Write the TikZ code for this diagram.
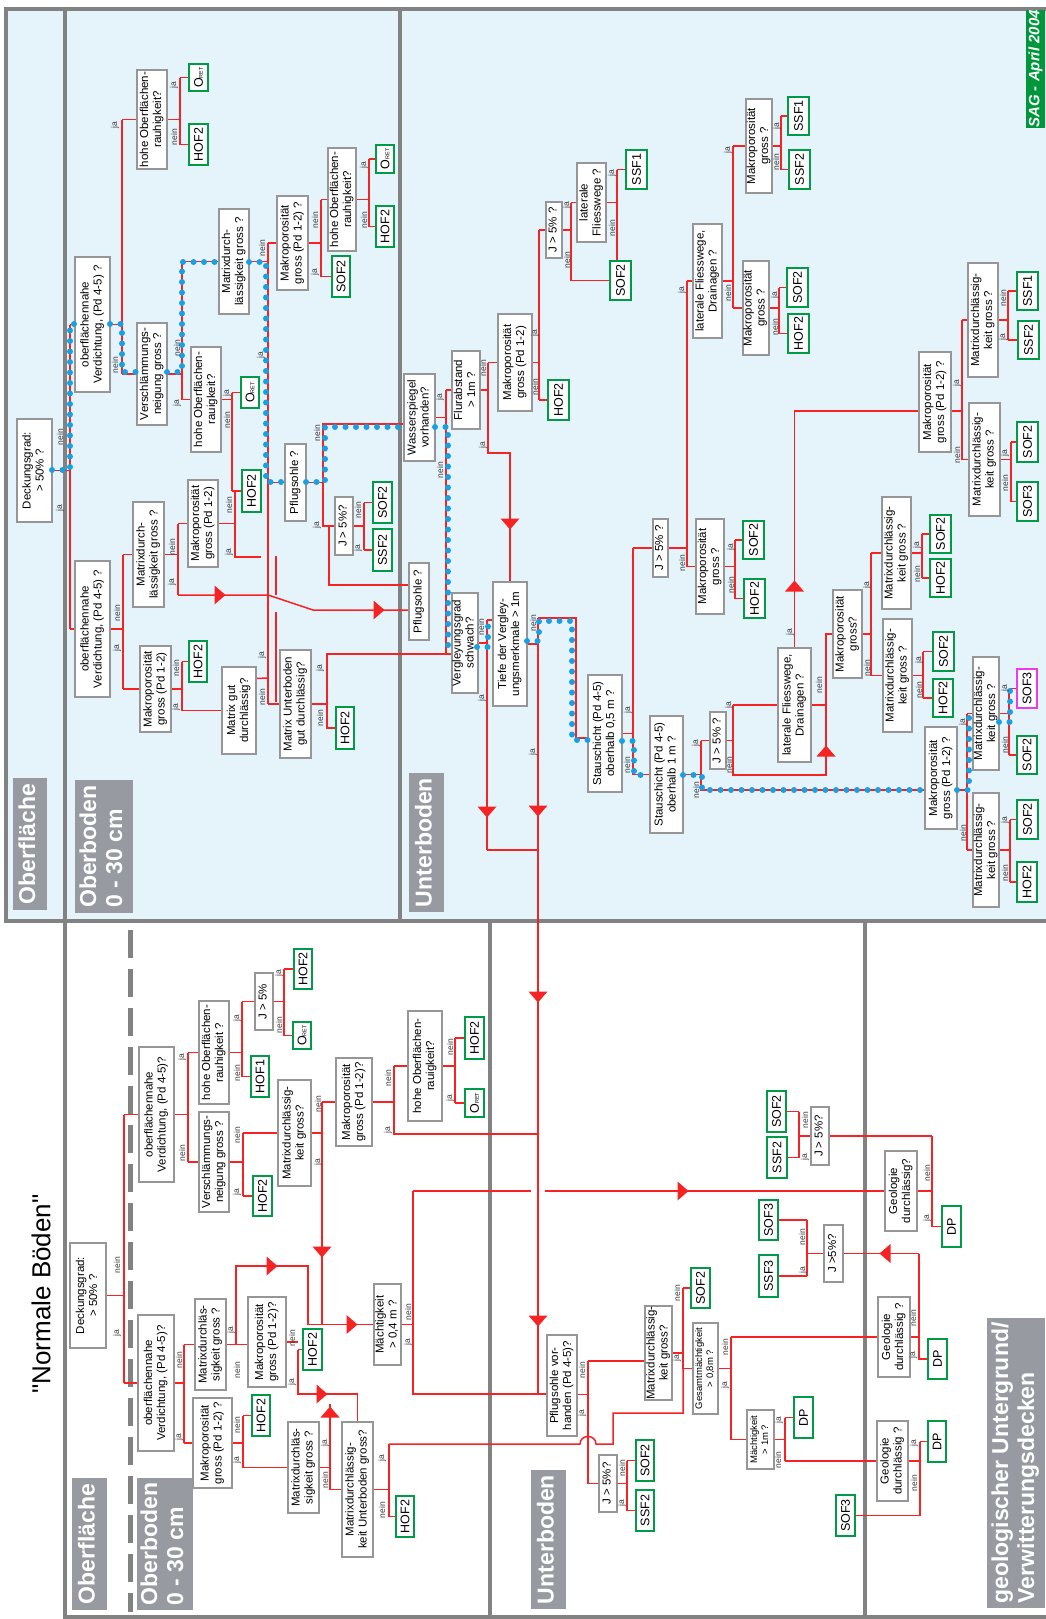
\documentclass[tikz,border=0pt]{standalone}
\usepackage{graphicx}
\usepackage{fontspec}
\setmainfont{Liberation Sans}
\newfontfamily\plainsans{Liberation Sans}[Ligatures=TeXOff]
\definecolor{redc}{RGB}{245,35,35}
\definecolor{bluec}{RGB}{25,160,225}
\definecolor{qgray}{RGB}{150,150,150}
\definecolor{rgreen}{RGB}{0,155,70}
\definecolor{magc}{RGB}{235,60,235}
\definecolor{bgc}{RGB}{229,243,251}
\definecolor{frc}{RGB}{130,130,130}
\definecolor{sectc}{RGB}{152,154,162}
\definecolor{sagc}{RGB}{0,150,60}
\definecolor{labc}{RGB}{60,60,60}
\pgfdeclarelayer{back}\pgfdeclarelayer{lines}
\pgfsetlayers{back,lines,main}
\newcommand\Rot[1]{\rotatebox{90}{\begin{tabular}{@{}c@{}}#1\end{tabular}}}
\newcommand\Rotl[1]{\rotatebox{90}{\begin{tabular}{@{}l@{}}#1\end{tabular}}}
\newcommand\ORET{O{\fontsize{5.5}{6}\selectfont RET}}
\newcommand\qbx[7][]{\node[qbox,#1,minimum width={(#5)-(#3)},minimum height={(#6)-(#4)}] (#2) at ({((#3)+(#5))/2},{((#4)+(#6))/2}) {\Rot{#7}};}
\newcommand\rbx[7][]{\node[rbox,#1,minimum width={(#5)-(#3)},minimum height={(#6)-(#4)}] (#2) at ({((#3)+(#5))/2},{((#4)+(#6))/2}) {\rotatebox{90}{#7}};}
\newcommand\brn[4]{\coordinate (J#1) at (#2,0);
\draw[rl] (#1.east) -- (#1.east -| J#1) (#3.west -| J#1) -- (#1.east -| J#1) -- (#4.west -| J#1) (#3.west -| J#1) -- (#3.west) (#4.west -| J#1) -- (#4.west);}
\newcounter{lbc}
\newcommand\lbl[3]{\stepcounter{lbc}\node[lab] (L\arabic{lbc}) at (#1,#2) {\rotatebox{90}{#3}};}
\newcommand\arR[2]{\fill[redc] (#1+5.5,#2) -- (#1-5.5,#2-9.5) -- (#1-5.5,#2+9.5) -- cycle;}
\newcommand\arL[2]{\fill[redc] (#1-5.5,#2) -- (#1+5.5,#2-9.5) -- (#1+5.5,#2+9.5) -- cycle;}
\newcommand\arD[2]{\fill[redc] (#1,#2+5.5) -- (#1-9.5,#2-5.5) -- (#1+9.5,#2-5.5) -- cycle;}
\newcommand\arU[2]{\fill[redc] (#1,#2-5.5) -- (#1-9.5,#2+5.5) -- (#1+9.5,#2+5.5) -- cycle;}
\tikzset{
 rl/.style={draw=redc, line width=1.5pt},
 bdot/.style={draw=bluec, line width=6pt, line cap=round, dash pattern=on 0pt off 10.5pt},
 qbox/.style={draw=qgray, line width=2pt, fill=white, inner sep=0pt, outer sep=0pt, font=\fontsize{11.5}{13}\selectfont},
 rbox/.style={draw=rgreen, line width=2.5pt, fill=white, inner sep=0pt, outer sep=0pt, font=\fontsize{12.5}{14}\selectfont},
 lab/.style={inner sep=0pt, font=\fontsize{8.5}{9}\selectfont, text=labc},
 sect/.style={fill=sectc, text=white, inner sep=0pt, font=\bfseries\fontsize{23}{26}\selectfont},
 frame/.style={draw=frc, line width=4pt},
}
\begin{document}
\begin{tikzpicture}[x=1pt,y=-1pt]
\useasboundingbox (0,0) rectangle (1046,1619);
\begin{pgfonlayer}{back}
\fill[white] (0,0) rectangle (1046,1619);
\fill[bgc] (6,9) rectangle (1046,921);
\draw[frame] (1046,9) -- (6,9) -- (6,921) -- (1046,921);
\draw[frame] (65,9) -- (65,1617) -- (1046,1617);
\draw[frame] (400,9) -- (400,921);
\draw[frame] (490,921) -- (490,1617);
\draw[frame] (865,921) -- (865,1617);
\draw[draw=frc, line width=5pt, dash pattern=on 28pt off 11pt] (130,930) -- (130,1612);
\end{pgfonlayer}

% section labels
\node[sect, minimum width=34, minimum height=132] (S1) at (30,844) {\Rotl{Oberfläche}};
\node[sect, minimum width=58, minimum height=133] (S2) at (104,846.5) {\Rotl{Oberboden\\0 - 30 cm}};
\node[sect, minimum width=35, minimum height=139] (S3) at (426.5,842.5) {\Rotl{Unterboden}};
\node[sect, minimum width=35, minimum height=132] (S4) at (89.5,1544) {\Rotl{Oberfläche}};
\node[sect, minimum width=56, minimum height=132] (S5) at (165,1544) {\Rotl{Oberboden\\0 - 30 cm}};
\node[sect, minimum width=35, minimum height=139] (S6) at (548.5,1539.5) {\Rotl{Unterboden}};
\node[sect, minimum width=58, minimum height=290] (S7) at (1016,1463) {\Rotl{geologischer Untergrund/\\Verwitterungsdecken}};
\node[fill=sagc, text=white, inner sep=0pt, minimum width=19, minimum height=118, font=\bfseries\itshape\fontsize{15}{15}\selectfont] (SAG) at (1035.5,69) {\rotatebox{90}{SAG - April 2004}};
\node[inner sep=0pt, font=\plainsans\fontsize{26}{30}\selectfont] (title) at (41,1294) {\rotatebox{90}{"Normale Böden"}};

% ---------- top section boxes
\qbx{T1}{17}{419}{52}{522}{Deckungsgrad:\\> 50\% ?}
\qbx{T2}{75}{257}{110}{392}{oberflächennahe\\Verdichtung, (Pd 4-5) ?}
\qbx{T3}{137}{70}{167}{169}{hohe Oberflächen-\\rauhigkeit?}
\rbx{T3a}{189}{64}{208}{91}{\ORET}
\rbx{T3b}{189}{124}{208}{165}{HOF2}
\qbx{T4}{137}{323}{167}{425}{Verschlämmungs-\\neigung gross ?}
\qbx{T5}{191}{347}{221}{452}{hohe Oberflächen-\\rauigkeit?}
\rbx{T5a}{241}{377}{259}{408}{\ORET}
\rbx{T5b}{242}{470}{261}{512}{HOF2}
\qbx{T6}{219}{209}{249}{314}{Matrixdurch-\\lässigkeit gross ?}
\qbx{T7}{277}{196}{308}{290}{Makroporosität\\gross (Pd 1-2) ?}
\rbx{T7a}{332}{256}{350}{297}{SOF2}
\qbx{T8}{328}{148}{356}{251}{hohe Oberflächen-\\rauhigkeit?}
\rbx{T8a}{376}{145}{394}{173}{\ORET}
\rbx{T8b}{376}{206}{394}{247}{HOF2}
\qbx{T9}{75}{561}{110}{697}{oberflächennahe\\Verdichtung, (Pd 4-5) ?}
\qbx{T10}{133}{502}{164}{607}{Matrixdurch-\\lässigkeit gross ?}
\qbx{T11}{188}{480}{218}{567}{Makroporosität\\gross (Pd 1-2)}
\qbx{T12}{140}{646}{171}{732}{Makroporosität\\gross (Pd 1-2)}
\rbx{T12a}{189}{641}{207}{682}{HOF2}
\qbx{T13}{222}{667}{256}{754}{Matrix gut\\durchlässig?}
\qbx{T14}{285}{444}{306}{521}{Pflugsohle ?}
\qbx{T15}{335}{497}{353}{555}{J > 5\%?}
\rbx{T15a}{373}{482}{392}{523}{SOF2}
\rbx{T15b}{373}{529}{392}{571}{SSF2}
\qbx{T16}{280}{650}{311}{758}{Matrix Unterboden\\gut durchlässig?}
\rbx{T16a}{336}{707}{354}{749}{HOF2}
% Unterboden (top)
\qbx{U1}{404}{374}{435}{461}{Wasserspiegel\\vorhanden?}
\qbx{U2}{452}{351}{480}{429}{Flurabstand\\> 1m ?}
\qbx{U3}{498}{314}{532}{411}{Makroporosität\\gross (Pd 1-2)}
\rbx{U3a}{548}{380}{569}{420}{HOF2}
\qbx{U4}{546}{202}{562}{258}{J > 5\% ?}
\qbx{U5}{577}{163}{606}{242}{laterale\\Fliesswege ?}
\rbx{U5a}{626}{150}{647}{189}{SSF1}
\rbx{U5b}{610}{261}{631}{300}{SOF2}
\qbx{U6}{409}{563}{429}{640}{Pflugsohle ?}
\qbx{U7}{452}{593}{477}{693}{Vergleyungsgrad\\schwach?}
\qbx{U8}{493}{582}{527}{706}{Tiefe der Vergley-\\ungsmerkmale > 1m}
\qbx{U9}{588}{675}{622}{792}{Stauschicht (Pd 4-5)\\oberhalb 0,5 m ?}
\qbx{U10}{650}{716}{683}{833}{Stauschicht (Pd 4-5)\\oberhalb 1 m ?}
\qbx{U11}{653}{519}{668}{577}{J > 5\% ?}
\qbx{U12}{696}{519}{724}{614}{Makroporosität\\gross ?}
\rbx{U12a}{743}{521}{764}{559}{SOF2}
\rbx{U12b}{744}{579}{765}{618}{HOF2}
\qbx{U13}{693}{224}{722}{338}{laterale Fliesswege,\\Drainagen ?}
\qbx{U14}{746}{99}{772}{193}{Makroporosität\\gross ?}
\rbx{U14a}{788}{97}{809}{135}{SSF1}
\rbx{U14b}{789}{150}{810}{189}{SSF2}
\qbx{U15}{743}{261}{768}{355}{Makroporosität\\gross ?}
\rbx{U15a}{787}{268}{808}{307}{SOF2}
\rbx{U15b}{788}{314}{809}{353}{HOF2}
\qbx{U16}{710}{712}{726}{769}{J > 5\% ?}
\qbx{U17}{778}{648}{811}{762}{laterale Fliesswege,\\Drainagen ?}
\qbx{U18}{833}{590}{862}{678}{Makroporosität\\gross?}
\qbx{U19}{882}{497}{911}{609}{Matrixdurchlässig-\\keit gross ?}
\rbx{U19a}{930}{515}{951}{553}{SOF2}
\rbx{U19b}{930}{559}{951}{597}{HOF2}
\qbx{U20}{883}{619}{912}{732}{Matrixdurchlässig-\\keit gross ?}
\rbx{U20a}{933}{632}{954}{671}{SOF2}
\rbx{U20b}{933}{679}{953}{717}{HOF2}
\qbx{U21}{919}{352}{951}{452}{Makroporosität\\gross (Pd 1-2) ?}
\qbx{U22}{968}{263}{998}{377}{Matrixdurchlässig-\\keit gross ?}
\rbx{U22a}{1017}{272}{1038}{310}{SSF1}
\rbx{U22b}{1018}{321}{1039}{359}{SSF2}
\qbx{U23}{969}{403}{1000}{516}{Matrixdurchlässig-\\keit gross ?}
\rbx{U23a}{1017}{422}{1038}{462}{SOF2}
\rbx{U23b}{1017}{482}{1038}{521}{SOF3}
\qbx{U24}{925}{727}{957}{829}{Makroporosität\\gross (Pd 1-2) ?}
\qbx{U25}{973}{657}{999}{770}{Matrixdurchlässig-\\keit gross ?}
\rbx[draw=magc]{U25a}{1017}{669}{1037}{708}{SOF3}
\rbx{U25b}{1017}{736}{1037}{774}{SOF2}
\qbx{U26}{973}{793}{999}{907}{Matrixdurchlässig-\\keit gross ?}
\rbx{U26a}{1017}{800}{1038}{839}{SOF2}
\rbx{U26b}{1017}{862}{1037}{902}{HOF2}
% ---------- bottom section boxes
\qbx{B1}{70}{1243}{106}{1348}{Deckungsgrad:\\> 50\% ?}
\qbx{B2}{139}{1047}{174}{1182}{oberflächennahe\\Verdichtung, (Pd 4-5)?}
\qbx{B3}{199}{1001}{229}{1104}{hohe Oberflächen-\\rauhigkeit ?}
\rbx{B3a}{251}{1056}{269}{1097}{HOF1}
\qbx{B4}{255}{973}{273}{1030}{J > 5\%}
\rbx{B4a}{294}{949}{312}{989}{HOF2}
\rbx{B4b}{293}{1022}{311}{1049}{\ORET}
\qbx{B5}{199}{1112}{229}{1212}{Verschlämmungs-\\neigung gross ?}
\rbx{B5a}{253}{1176}{272}{1216}{HOF2}
\qbx{B6}{278}{1080}{311}{1186}{Matrixdurchlässig-\\keit gross?}
\qbx{B7}{336}{1058}{372}{1146}{Makroporosität\\gross (Pd 1-2)?}
\qbx{B8}{408}{1011}{442}{1121}{hohe Oberflächen-\\rauigkeit?}
\rbx{B8a}{465}{1017}{484}{1059}{HOF2}
\rbx{B8b}{465}{1089}{484}{1117}{\ORET}
\qbx{B9}{138}{1315}{174}{1451}{oberflächennahe\\Verdichtung, (Pd 4-5)?}
\qbx{B10}{195}{1299}{226}{1390}{Matrixdurchläs-\\sigkeit gross ?}
\qbx{B11}{248}{1297}{286}{1387}{Makroporosität\\gross (Pd 1-2)?}
\rbx{B11a}{303}{1329}{322}{1370}{HOF2}
\qbx{B12}{193}{1398}{232}{1488}{Makroporosität\\gross (Pd 1-2) ?}
\rbx{B12a}{252}{1395}{270}{1436}{HOF2}
\qbx{B13}{288}{1422}{319}{1513}{Matrixdurchläs-\\sigkeit gross ?}
\qbx{B14}{342}{1422}{373}{1557}{Matrixdurchlässig-\\keit Unterboden gross?}
\rbx{B14a}{396}{1496}{414}{1537}{HOF2}
\qbx{B15}{374}{1284}{401}{1365}{Mächtigkeit\\> 0,4 m ?}
\qbx{B16}{547}{1335}{577}{1436}{Pflugsohle vor-\\handen (Pd 4-5)?}
\qbx{B17}{599}{1455}{617}{1512}{J > 5\%?}
\rbx{B17a}{636}{1440}{654}{1481}{SOF2}
\rbx{B17b}{636}{1490}{654}{1531}{SSF2}
\qbx{B18}{645}{1307}{672}{1399}{Matrixdurchlässig-\\keit gross?}
\rbx{B18a}{691}{1268}{710}{1308}{SOF2}
\qbx[font=\fontsize{9.5}{11}\selectfont]{B19}{693}{1323}{718}{1414}{Gesamtmächtigkeit\\> 0,8m ?}
\qbx[font=\fontsize{9.5}{11}\selectfont]{B20}{747}{1410}{774}{1469}{Mächtigkeit\\> 1m ?}
\rbx{B20a}{794}{1397}{813}{1438}{DP}
\qbx{B21}{878}{1297}{910}{1377}{Geologie\\durchlässig ?}
\rbx{B21a}{928}{1339}{947}{1379}{DP}
\qbx{B22}{877}{1421}{908}{1501}{Geologie\\durchlässig ?}
\rbx{B22a}{928}{1421}{946}{1462}{DP}
\rbx{B22b}{836}{1495}{855}{1536}{SOF3}
\qbx{B23}{824}{1225}{843}{1282}{J >5\%?}
\rbx{B23a}{759}{1200}{778}{1240}{SOF3}
\rbx{B23b}{759}{1255}{778}{1297}{SSF3}
\qbx{B24}{811}{1107}{829}{1165}{J > 5\%?}
\rbx{B24a}{767}{1091}{786}{1132}{SOF2}
\rbx{B24b}{767}{1137}{787}{1178}{SSF2}
\qbx{B25}{885}{1151}{917}{1231}{Geologie\\durchlässig?}
\rbx{B25a}{942}{1206}{961}{1247}{DP}

% ---------- connectors
\begin{pgfonlayer}{lines}
\brn{T1}{70}{T2}{T9}
\brn{T2}{122}{T3}{T4}
\brn{T3}{180}{T3a}{T3b}
\brn{T4}{182}{T6}{T5}
\brn{T5}{232}{T5a}{T5b}
\brn{T6}{268}{T7}{T16}
\draw[rl] (T14.west -| JT6) -- (T14.west);
\brn{T7}{321}{T8}{T7a}
\brn{T8}{369}{T8a}{T8b}
\brn{T9}{123}{T10}{T12}
\coordinate (JT10) at (178,0);
\draw[rl] (T10.east) -- (T10.east -| JT10) (T11.west -| JT10) -- (178,595) (T11.west -| JT10) -- (T11.west);
\draw[rl] (178,595) -- (268,595) -- (313,610) -- ([yshift=-8.5pt]U6.west);
\coordinate (JT11) at (235,0);
\draw[rl] (T11.east) -- (T11.east -| JT11) (T5b.west -| JT11) -- (235,557) -- (261,557) (T5b.west -| JT11) -- (T5b.west);
\draw[rl] (275,557) -- (276,557) -- (276,595);
\draw[rl] (276,612) -- (276,702);
\brn{T12}{182}{T12a}{T13}
\draw[rl] ([yshift=32pt]T13.east) -- (268,678);
\coordinate (JT14) at (323,0);
\draw[rl] (T14.east) -- (T14.east -| JT14) -- (323,424) -- ([yshift=-6.5pt]U1.west) (T14.east -| JT14) -- (T15.west -| JT14) -- (T15.west);
\brn{T15}{364}{T15a}{T15b}
\draw[rl] (329,526) -- (329,585) -- ([yshift=16.5pt]U6.west);
\coordinate (JT16) at (327,0);
\draw[rl] (T16.east) -- (T16.east -| JT16) -- (327,654) -- ([yshift=-11pt]U7.west) (T16.east -| JT16) -- (T16a.west -| JT16) -- (T16a.west);
% Unterboden top
\coordinate (JU1) at (446,0);
\draw[rl] (U1.east) -- (U1.east -| JU1) (U2.west -| JU1) -- (446,654) (U2.west -| JU1) -- (U2.west);
\coordinate (JU2) at (488,0);
\draw[rl] (U2.east) -- (U2.east -| JU2) (U3.west -| JU2) -- (488,453) -- (510,453) -- (U8.north) (U3.west -| JU2) -- (U3.west);
\brn{U3}{539}{U4}{U3a}
\brn{U4}{571}{U5}{U5b}
\coordinate (JU5) at (617,0);
\draw[rl] (U5.east) -- (U5.east -| JU5) (U5a.west -| JU5) -- (U5b.north -| JU5) (U5a.west -| JU5) -- (U5a.west);
\coordinate (JU7) at (487,0);
\draw[rl] (U7.east) -- (U7.east -| JU7) (487,620) -- (487,850) (487,620) -- ([yshift=24pt]U8.west);
\coordinate (JU8) at (538,0);
\draw[rl] (U8.east) -- (U8.east -| JU8) (538,618) -- (538,1394) (538,618) -- (576,618) -- (576,738) -- ([yshift=-4.5pt]U9.west);
\draw[rl] (487,850) -- (538,850);
\brn{U9}{633}{U11}{U10}
\coordinate (JU10) at (701,0);
\draw[rl] (U10.east) -- (U10.east -| JU10) (U16.west -| JU10) -- (701,790) -- ([yshift=-12pt]U24.west) (U16.west -| JU10) -- (U16.west);
\brn{U11}{687}{U13}{U12}
\brn{U13}{733}{U14}{U15}
\brn{U14}{781}{U14a}{U14b}
\brn{U15}{779}{U15a}{U15b}
\brn{U12}{735}{U12a}{U12b}
\coordinate (JU16) at (733,0);
\draw[rl] (U16.east) -- (U16.east -| JU16) (U17.west -| JU16) -- (733,775) -- (826,775) -- (826,702) (U17.west -| JU16) -- (U17.west);
\coordinate (JU17) at (826,0);
\draw[rl] (U17.east) -- (U17.east -| JU17) -- (U18.west -| JU17) -- (U18.west);
\coordinate (K1) at (794.5,411);
\draw[rl] (U17.north) -- (K1) -- ([yshift=-9pt]U21.west);
\brn{U18}{871}{U19}{U20}
\brn{U19}{922}{U19a}{U19b}
\brn{U20}{923}{U20a}{U20b}
\coordinate (JU21) at (962,0);
\draw[rl] ([yshift=-9pt]U21.east) -- ([yshift=-9pt]U21.east -| JU21) (U22.west -| JU21) -- (U23.west -| JU21) (U22.west -| JU21) -- (U22.west) (U23.west -| JU21) -- (U23.west);
\brn{U22}{1008}{U22a}{U22b}
\brn{U23}{1011}{U23a}{U23b}
\coordinate (JU24) at (967,0);
\draw[rl] ([yshift=-12pt]U24.east) -- ([yshift=-12pt]U24.east -| JU24) (U25.west -| JU24) -- (U26.west -| JU24) (U25.west -| JU24) -- (U25.west) (U26.west -| JU24) -- (U26.west);
\brn{U25}{1009}{U25a}{U25b}
\brn{U26}{1010}{U26a}{U26b}
% bottom
\brn{B1}{124}{B2}{B9}
\brn{B2}{188}{B3}{B5}
\brn{B3}{242}{B4}{B3a}
\brn{B4}{284}{B4a}{B4b}
\brn{B5}{243}{B6}{B5a}
\coordinate (JB6) at (322,0);
\draw[rl] (B6.east) -- (B6.east -| JB6) (B7.west -| JB6) -- (322,1325) (B7.west -| JB6) -- (B7.west);
\coordinate (JB7) at (394,0);
\draw[rl] (B7.east) -- (B7.east -| JB7) (B8.west -| JB7) -- (394,1134) -- (538,1134) (B8.west -| JB7) -- (B8.west);
\brn{B8}{455}{B8a}{B8b}
\brn{B9}{184}{B10}{B12}
\coordinate (JB10) at (236,0);
\draw[rl] (B10.east) -- (B10.east -| B11.west) (B10.east -| JB10) -- (236,1266) -- (308,1266) -- (308,1324.5) -- (B15.west);
\coordinate (JB11) at (298,0);
\coordinate (K2) at (357.5,1394);
\draw[rl] (B11.east) -- (B11.east -| JB11) (B11a.west -| JB11) -- (298,1394) -- (K2) -- (B14.north) (B11a.west -| JB11) -- (B11a.west);
\brn{B12}{243}{B12a}{B13}
\coordinate (JB13) at (330,0);
\draw[rl] (B13.east) -- (B13.east -| JB13) (330,1404) -- (B14.west -| JB13) -- (B14.west);
\coordinate (JB14) at (389,0);
\draw[rl] (B14.east) -- (B14.east -| JB14) (389,1444) -- (B14a.west -| JB14) -- (B14a.west);
\draw[rl] (389,1444) -- (580,1444) .. controls (580,1434) and (596,1434) .. (596,1444) -- (613,1444) -- (613,1413) -- (683,1413) -- (683,1368.5);
\coordinate (JB15) at (413,0);
\draw[rl] (B15.east) -- (B15.east -| JB15) (413,1191) -- (413,1394) -- ([yshift=-8.5pt]B16.west);
\draw[rl] (413,1191) -- (531,1191) (545,1191) -- (B25.west);
\coordinate (JB16) at (588,0);
\draw[rl] ([yshift=-9pt]B16.east) -- (588,1394.5) (588,1361) -- (B17.west -| JB16) -- (B17.west) (588,1361) -- ([yshift=-8pt]B18.west);
\brn{B17}{627}{B17a}{B17b}
\coordinate (JB18) at (683,0);
\draw[rl] (B18.east) -- (B18.east -| JB18) (B18a.west -| JB18) -- (B19.west -| JB18) -- (B19.west) (B18a.west -| JB18) -- (B18a.west);
\brn{B19}{731}{B21}{B20}
\brn{B20}{785}{B20a}{B22}
\coordinate (JB21) at (919,0);
\draw[rl] (B21.east) -- (B21.east -| JB21) (B23.east -| JB21) -- (B21a.west -| JB21) -- (B21a.west) (B23.east -| JB21) -- (B23.east);
\coordinate (JB22) at (920,0);
\draw[rl] (B22.east) -- (B22.east -| JB22) (B22a.west -| JB22) -- (B22a.west) (B22a.west -| JB22) -- (B22b.east -| JB22) -- (B22b.east);
\coordinate (JB23) at (807,0);
\draw[rl] (B23.west) -- (B23.west -| JB23) (B23a.east -| JB23) -- (B23b.east -| JB23) (B23a.east -| JB23) -- (B23a.east) (B23b.east -| JB23) -- (B23b.east);
\coordinate (JB25) at (932,0);
\draw[rl] (B25.east) -- (B25.east -| JB25) (B24.east -| JB25) -- (B25a.west -| JB25) -- (B25a.west) (B24.east -| JB25) -- (B24.east);
\coordinate (JB24) at (799,0);
\draw[rl] (B24.west) -- (B24.west -| JB24) (B24a.east -| JB24) -- (B24b.east -| JB24) (B24a.east -| JB24) -- (B24a.east) (B24b.east -| JB24) -- (B24b.east);
% arrows
\arR{220}{595}
\arR{379}{610}
\arD{510}{524}
\arD{487}{812}
\arD{538}{811}
\arU{794.5}{586}
\arU{826}{751}
\arD{538}{997}
\arD{538}{1321}
\arR{683}{1191}
\arL{885}{1253.5}
\arR{272}{1266}
\arD{322}{1252}
\arR{352}{1324.5}
\arR{322}{1394}
\arU{330}{1412}
\end{pgfonlayer}

% blue dotted path
\draw[bdot] (52,470) -- (70,470) -- (70,324) -- (75,324);
\draw[bdot] (110,324) -- (122,324) -- (122,372) -- (137,372);
\draw[bdot] (167,372) -- (182,372) -- (182,262) -- (219,262);
\draw[bdot] (249,262) -- (266,262) -- (266,482) -- (285,482);
\draw[bdot] (306,482) -- (325,482) -- (325,427) -- (404,427);
\draw[bdot] (435,427) -- (448,427) -- (448,645) -- (452,645);
\draw[bdot] (477,647) -- (488,647) -- (488,622) -- (493,622);
\draw[bdot] (527,641) -- (539,641) -- (539,621) -- (572,621) -- (572,740) -- (588,740);
\draw[bdot] (622,741) -- (634,741) -- (634,775) -- (650,775);
\draw[bdot] (683,775) -- (702,775) -- (702,790) -- (925,790);
\draw[bdot] (957,790) -- (969,790) -- (969,718) -- (973,718);
\draw[bdot] (999,722) -- (1010,722) -- (1010,690) -- (1017,690);

% ja / nein labels
\lbl{60}{437}{nein}\lbl{60}{508}{ja}
\lbl{115}{125}{ja}\lbl{115}{365}{nein}
\lbl{174}{85}{ja}\lbl{174}{137}{nein}
\lbl{177}{348}{nein}\lbl{177}{403}{ja}
\lbl{227}{393}{ja}\lbl{227}{420}{nein}
\lbl{262}{248}{nein}\lbl{261}{355}{ja}
\lbl{315}{220}{nein}\lbl{315}{272}{ja}
\lbl{364}{165}{ja}\lbl{364}{220}{nein}
\lbl{117}{613}{nein}\lbl{117}{648}{ja}
\lbl{172}{547}{nein}\lbl{172}{582}{ja}
\lbl{229}{505}{nein}\lbl{229}{552}{ja}
\lbl{176}{668}{nein}\lbl{176}{707}{ja}
\lbl{262}{655}{ja}\lbl{262}{697}{nein}
\lbl{317}{433}{nein}\lbl{317}{525}{ja}
\lbl{358}{510}{nein}\lbl{358}{548}{ja}
\lbl{320}{668}{ja}\lbl{320}{718}{nein}
\lbl{440}{397}{ja}\lbl{440}{470}{nein}
\lbl{483}{368}{nein}\lbl{483}{445}{ja}
\lbl{535}{333}{ja}\lbl{535}{387}{nein}
\lbl{567}{205}{ja}\lbl{567}{260}{nein}
\lbl{612}{173}{ja}\lbl{612}{228}{nein}
\lbl{481}{627}{nein}\lbl{482}{698}{ja}
\lbl{533}{623}{nein}\lbl{533}{752}{ja}
\lbl{628}{710}{ja}\lbl{627}{765}{nein}
\lbl{696}{743}{ja}\lbl{696}{790}{nein}
\lbl{682}{290}{ja}\lbl{682}{563}{nein}
\lbl{728}{150}{ja}\lbl{728}{293}{nein}
\lbl{777}{126}{ja}\lbl{776}{162}{nein}
\lbl{775}{295}{ja}\lbl{775}{327}{nein}
\lbl{731}{547}{ja}\lbl{731}{585}{nein}
\lbl{729}{705}{ja}\lbl{729}{765}{nein}
\lbl{790}{632}{ja}\lbl{819}{685}{nein}
\lbl{867}{585}{ja}\lbl{867}{668}{nein}
\lbl{917}{545}{ja}\lbl{917}{574}{nein}
\lbl{919}{660}{ja}\lbl{919}{690}{nein}
\lbl{957}{383}{ja}\lbl{957}{455}{nein}
\lbl{1003}{298}{nein}\lbl{1003}{337}{ja}
\lbl{1005}{453}{ja}\lbl{1005}{483}{nein}
\lbl{963}{722}{ja}\lbl{963}{833}{nein}
\lbl{1005}{688}{ja}\lbl{1005}{745}{nein}
\lbl{1005}{820}{ja}\lbl{1005}{873}{nein}
% bottom labels
\lbl{117}{1265}{nein}\lbl{117}{1333}{ja}
\lbl{182}{1057}{ja}\lbl{182}{1153}{nein}
\lbl{237}{1018}{ja}\lbl{237}{1073}{nein}
\lbl{279}{973}{ja}\lbl{279}{1025}{nein}
\lbl{237}{1135}{nein}\lbl{237}{1192}{ja}
\lbl{318}{1104}{nein}\lbl{318}{1162}{ja}
\lbl{388}{1078}{nein}\lbl{388}{1130}{ja}
\lbl{450}{1047}{nein}\lbl{450}{1098}{ja}
\lbl{179}{1360}{nein}\lbl{179}{1437}{ja}
\lbl{231}{1330}{ja}\lbl{237}{1370}{nein}
\lbl{292}{1338}{nein}\lbl{292}{1382}{ja}
\lbl{237}{1425}{nein}\lbl{237}{1460}{ja}
\lbl{325}{1443}{ja}\lbl{325}{1480}{nein}
\lbl{382}{1458}{ja}\lbl{382}{1510}{nein}
\lbl{408}{1312}{nein}\lbl{408}{1342}{ja}
\lbl{582}{1370}{nein}\lbl{582}{1413}{ja}
\lbl{622}{1468}{nein}\lbl{622}{1503}{ja}
\lbl{677}{1293}{nein}\lbl{677}{1358}{ja}
\lbl{725}{1347}{nein}\lbl{725}{1385}{ja}
\lbl{779}{1420}{ja}\lbl{778}{1460}{nein}
\lbl{913}{1318}{nein}\lbl{913}{1355}{ja}
\lbl{914}{1443}{ja}\lbl{914}{1483}{nein}
\lbl{802}{1237}{nein}\lbl{803}{1270}{ja}
\lbl{927}{1173}{nein}\lbl{927}{1218}{ja}
\lbl{805}{1120}{nein}\lbl{805}{1157}{ja}
\end{tikzpicture}
\end{document}
